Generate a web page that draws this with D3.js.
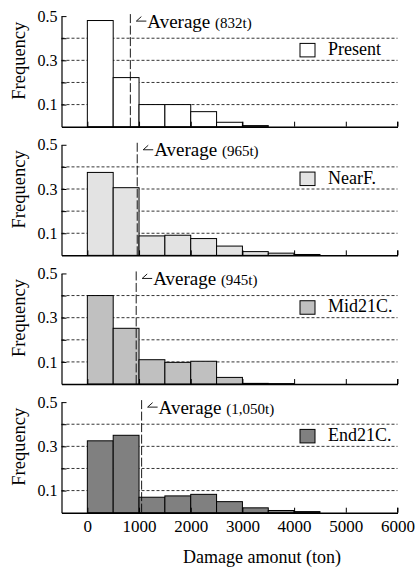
<!DOCTYPE html>
<html>
<head>
<meta charset="utf-8">
<script src="https://cdn.jsdelivr.net/npm/d3@7"></script>
<style>
  body { margin: 0; background: #fff; }
  svg { font-family: "Liberation Serif", "DejaVu Serif", serif; }
</style>
</head>
<body>
<svg width="418" height="567"></svg>
<script>

// histogram bins of 500 t, from 0 to 6000
var binStarts = [0, 500, 1000, 1500, 2000, 2500, 3000, 3500, 4000, 4500, 5000, 5500];

var scenarios = ["Present", "NearF.", "Mid21C.", "End21C."];
var fills = ["#ffffff", "#e3e3e3", "#c0c0c0", "#808080"];
var averages = [832, 965, 945, 1050];
var avgLabels = ["(832t)", "(965t)", "(945t)", "(1,050t)"];

var presentFreq = [0.480, 0.222, 0.100, 0.100, 0.068, 0.020, 0.005, 0, 0, 0, 0, 0];
var nearFFreq   = [0.375, 0.306, 0.088, 0.091, 0.076, 0.042, 0.017, 0.010, 0.004, 0, 0, 0];
var mid21Freq   = [0.400, 0.252, 0.110, 0.098, 0.103, 0.030, 0.003, 0.002, 0, 0, 0, 0];
var end21Freq   = [0.325, 0.350, 0.070, 0.076, 0.083, 0.050, 0.022, 0.010, 0.005, 0, 0, 0];
var series = [presentFreq, nearFFreq, mid21Freq, end21Freq];

var xTicks = [0, 1000, 2000, 3000, 4000, 5000, 6000];
var yTickLabels = [0.1, 0.3, 0.5];
var gridVals = [0.1, 0.2, 0.3, 0.4];
var yTicks = [0.1, 0.2, 0.3, 0.4, 0.5];

var svg = d3.select("svg");

var x = d3.scaleLinear().domain([-500, 6000]).range([61.5, 397.5]);
var binW = 500;

series.forEach(function(vals, i) {

  var base = 126.7 + i * 128.67;
  var y = d3.scaleLinear().domain([0, 0.5]).range([base, base - 110.6]);
  var top = y(0.5);

  var g = svg.append("g").attr("class", "panel");

  // dashed grid
  g.selectAll(".grid")
    .data(gridVals)
    .enter().append("line")
    .attr("x1", x(-500)).attr("x2", x(6000))
    .attr("y1", function(d) { return y(d); })
    .attr("y2", function(d) { return y(d); })
    .attr("stroke", "#000")
    .attr("stroke-width", 0.8)
    .attr("stroke-dasharray", "3,2");

  // bars
  g.selectAll(".bar")
    .data(binStarts.map(function(b, j) { return {x0: b, v: vals[j]}; }).filter(function(d) { return d.v > 0; }))
    .enter().append("rect")
    .attr("x", function(d) { return x(d.x0); })
    .attr("y", function(d) { return y(d.v); })
    .attr("width", function(d) { return x(d.x0 + binW) - x(d.x0); })
    .attr("height", function(d) { return y(0) - y(d.v); })
    .attr("fill", fills[i])
    .attr("stroke", "#000")
    .attr("stroke-width", 1);

  // axes
  var xAxis = d3.axisBottom(x).tickValues(xTicks).tickSizeInner(-5).tickSizeOuter(0).tickFormat(i == 3 ? d3.format("d") : "");
  var gx = g.append("g").attr("transform", "translate(0," + base + ")").call(xAxis);
  gx.select(".domain").attr("stroke-width", 1.5);
  gx.selectAll("text")
    .attr("font-size", 17).attr("font-family", "Liberation Serif").attr("fill", "#000")
    .attr("y", 19).attr("dy", 0);

  var yAxis = d3.axisLeft(y).tickValues(yTicks).tickSizeInner(-5).tickSizeOuter(0)
    .tickFormat(function(d) { return yTickLabels.indexOf(d) >= 0 ? d3.format(".1f")(d) : ""; });
  var gy = g.append("g").attr("transform", "translate(" + x(-500) + ",0)").call(yAxis);
  gy.select(".domain").attr("stroke-width", 1.2);
  gy.selectAll("text").attr("font-size", 16).attr("font-family", "Liberation Serif").attr("fill", "#000").attr("x", -4);

  // right-end tick on x axis
  g.append("line")
    .attr("x1", x(6000)).attr("x2", x(6000))
    .attr("y1", base).attr("y2", base - 5)
    .attr("stroke", "#000");

  g.append("text")
    .attr("transform", "translate(25," + (base - 66) + ") rotate(-90)")
    .attr("text-anchor", "middle")
    .attr("font-size", 18.5)
    .text("Frequency");

  // average line
  var ax = x(averages[i]);
  g.append("line")
    .attr("x1", ax).attr("x2", ax)
    .attr("y1", top - 2).attr("y2", base)
    .attr("stroke", "#000")
    .attr("stroke-width", 0.9)
    .attr("stroke-dasharray", "9,2.5");

  g.append("path")
    .attr("d", "M" + (ax + 16) + "," + (top + 5) + "H" + (ax + 6) + "L" + (ax + 11) + "," + (top + 0.5))
    .attr("fill", "none")
    .attr("stroke", "#000")
    .attr("stroke-width", 0.9);

  var t = g.append("text")
    .attr("x", ax + 17)
    .attr("y", top + 11.5)
    .attr("font-size", 19);
  t.append("tspan").text("Average ");
  t.append("tspan").attr("font-size", 15).text(avgLabels[i]);

  // legend
  g.append("rect")
    .attr("x", 318).attr("y", top + 25)
    .attr("width", 76).attr("height", 18)
    .attr("fill", "#fff");

  g.append("rect")
    .attr("x", 300).attr("y", top + 27.3)
    .attr("width", 15).attr("height", 13.5)
    .attr("fill", fills[i])
    .attr("stroke", "#000")
    .attr("stroke-width", 1);

  g.append("text")
    .attr("x", 328).attr("y", top + 38.8)
    .attr("font-size", 18)
    .text(scenarios[i]);
});

svg.append("text")
  .attr("x", 262)
  .attr("y", 562.5)
  .attr("text-anchor", "middle")
  .attr("font-size", 18)
  .text("Damage amonut (ton)");

</script>
</body>
</html>
